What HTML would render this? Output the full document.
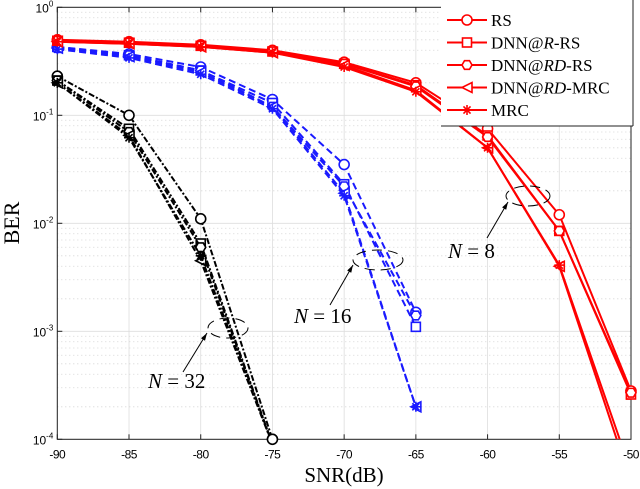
<!DOCTYPE html>
<html><head><meta charset="utf-8"><style>
body{margin:0;background:#fff;width:640px;height:489px;overflow:hidden}
svg{display:block}
text{font-family:"Liberation Sans",sans-serif}
.serif{font-family:"Liberation Serif",serif}
</style></head><body>
<svg id="chart" width="640" height="489" xmlns="http://www.w3.org/2000/svg"></svg>
<script>
const xTicks=[-90,-85,-80,-75,-70,-65,-60,-55,-50];
const yExps=[0,-1,-2,-3,-4];
const snr8=[-90,-85,-80,-75,-70,-65,-60,-55,-50];
const n8RS=[0.5,0.48,0.45,0.4,0.31,0.2,0.075,0.012,0.00028];
const n8RRS=[0.49,0.47,0.44,0.39,0.3,0.19,0.065,0.0085,0.00026];
const n8RDRS=[0.49,0.47,0.44,0.39,0.3,0.185,0.063,0.0085,0.00027];
const n8RDMRC=[0.48,0.46,0.43,0.38,0.29,0.17,0.05,0.004,0.00004];
const n8MRC=[0.48,0.46,0.43,0.38,0.28,0.165,0.05,0.0041,0.00005];
const snr16=[-90,-85,-80,-75,-70,-65];
const n16RS=[0.43,0.37,0.28,0.14,0.035,0.0015];
const n16RRS=[0.43,0.36,0.26,0.13,0.023,0.0011];
const n16RDRS=[0.42,0.36,0.26,0.12,0.022,0.0014];
const n16RDMRC=[0.42,0.35,0.25,0.12,0.019,0.0002];
const n16MRC=[0.41,0.34,0.24,0.115,0.018,0.0002];
const snr32=[-90,-85,-80,-75];
const n32RS=[0.23,0.1,0.011,0.0001];
const n32RRS=[0.21,0.075,0.0065,0.00009];
const n32RDRS=[0.21,0.07,0.006,0.00009];
const n32RDMRC=[0.2,0.065,0.0045,0.00009];
const n32MRC=[0.2,0.062,0.005,0.00009];
const legendLabels=["RS","DNN@R-RS","DNN@RD-RS","DNN@RD-MRC","MRC"];

const L=57.3,R=631,T=7.3,B=439.3;
const X=v=>L+(v+90)/40*(R-L);
const Y=v=>T+(-Math.log10(v))/4*(B-T);
const svg=document.getElementById('chart');
const NS='http://www.w3.org/2000/svg';
function mk(tag,attrs,parent){const e=document.createElementNS(NS,tag);for(const k in attrs)e.setAttribute(k,attrs[k]);(parent||svg).appendChild(e);return e;}
const defs=mk('defs',{});const cp=mk('clipPath',{id:'clip'},defs);mk('rect',{x:L,y:T,width:R-L,height:B-T},cp);

const grid=mk('g',{});


for(let d=0;d<4;d++)for(let m=2;m<10;m++){const y=Y(m*Math.pow(10,-d-1));mk('line',{x1:L,x2:R,y1:y,y2:y,stroke:'#ccc','stroke-width':0.8,'stroke-dasharray':'1,3'},grid);}
yExps.forEach(e=>{const y=Y(Math.pow(10,e));mk('line',{x1:L,x2:R,y1:y,y2:y,stroke:'#ddd','stroke-width':0.8},grid);});
xTicks.forEach(t=>{mk('line',{x1:X(t),x2:X(t),y1:T,y2:B,stroke:'#ddd','stroke-width':0.8},grid);});

const ax=mk('g',{});


mk('rect',{x:L,y:T,width:R-L,height:B-T,fill:'none',stroke:'#222','stroke-width':1},ax);
xTicks.forEach(t=>{const x=X(t);mk('line',{x1:x,x2:x,y1:B,y2:B-5,stroke:'#222'},ax);mk('line',{x1:x,x2:x,y1:T,y2:T+5,stroke:'#222'},ax);
 const tx=mk('text',{x:x,y:B+19,'font-size':12,'text-anchor':'middle','letter-spacing':'-0.5'},ax);tx.textContent=t;
 
 });
yExps.forEach(e=>{const y=Y(Math.pow(10,e));mk('line',{x1:L,x2:L+5,y1:y,y2:y,stroke:'#222'},ax);
 const tx=mk('text',{x:L-4,y:y+5,'font-size':12,'text-anchor':'end'},ax);
 
 
 tx.innerHTML='10<tspan dy="-6" font-size="8">'+e+'</tspan>';});
const xt=mk('text',{x:344,y:482,'font-size':21,'text-anchor':'middle',class:'serif'});xt.textContent='SNR(dB)';


const yt=mk('text',{x:0,y:0,'font-size':22,'text-anchor':'middle',class:'serif',transform:'translate(19,223) rotate(-90)'});yt.textContent='BER';



function marker(g,type,x,y,c){
 const s=5;
 if(type==0)mk('circle',{cx:x,cy:y,r:s,fill:'#fff',stroke:c,'stroke-width':1.6},g);
 else if(type==1)mk('rect',{x:x-s+0.5,y:y-s+0.5,width:2*s-1,height:2*s-1,fill:'#fff',stroke:c,'stroke-width':1.6},g);
 else if(type==2){let p=[];for(let i=0;i<6;i++){const a=Math.PI/3*i;p.push((x+s*Math.cos(a))+','+(y+s*Math.sin(a)));}mk('polygon',{points:p.join(' '),fill:'#fff',stroke:c,'stroke-width':1.6},g);}
 else if(type==3)mk('polygon',{points:(x-s)+','+y+' '+(x+s)+','+(y-s)+' '+(x+s)+','+(y+s),fill:'#fff',stroke:c,'stroke-width':1.6},g);
 else {for(let i=0;i<4;i++){const a=Math.PI/4*i;mk('line',{x1:x-s*Math.cos(a),y1:y-s*Math.sin(a),x2:x+s*Math.cos(a),y2:y+s*Math.sin(a),stroke:c,'stroke-width':1.6},g);}}
}
const plot=mk('g',{'clip-path':'url(#clip)'});
function series(xs,ys,c,dash,name){
 const g=mk('g',{},plot);
 
 
 mk('polyline',{points:xs.map((v,i)=>X(v)+','+Y(ys[i])).join(' '),fill:'none',stroke:c,'stroke-width':2,'stroke-dasharray':dash},g);
 return g;
}
const groups=[
 [snr32,[n32RS,n32RRS,n32RDRS,n32RDMRC,n32MRC],'#000','6,2,2,2','n32'],
 [snr16,[n16RS,n16RRS,n16RDRS,n16RDMRC,n16MRC],'#1a1aff','7,4','n16'],
 [snr8,[n8RS,n8RRS,n8RDRS,n8RDMRC,n8MRC],'#ff0000','','n8']];
groups.forEach(([xs,list,c,dash,nm])=>{list.forEach((ys,k)=>{const g=series(xs,ys,c,dash,nm+'-'+legendLabels[k].toLowerCase().replace(/@/g,'-'));
 xs.forEach((v,i)=>{if(ys[i]>=0.0001)marker(g,k,X(v),Y(ys[i]),c);});});});
const mg=mk('g',{});
groups.forEach(([xs,list,c])=>list.forEach((ys,k)=>xs.forEach((v,i)=>{const x=X(v),y=Y(ys[i]);if(ys[i]>=0.0001&&(x>=R-1||y>=B-1||x<=L+1))marker(mg,k,x,y,c);})));

const an=mk('g',{});


[[528,196,22,10,487,238,508,202,'8',448,258],[378,260,25,10,330,305,353,265,'16',294,323],[228,328,20,10,183,372,207,333,'32',148,388]].forEach(a=>{
 mk('ellipse',{cx:a[0],cy:a[1],rx:a[2],ry:a[3],fill:'none',stroke:'#000','stroke-width':1,'stroke-dasharray':'10,6'},an);
 mk('line',{x1:a[4],y1:a[5],x2:a[6],y2:a[7],stroke:'#000','stroke-width':1},an);
 const ang=Math.atan2(a[7]-a[5],a[6]-a[4]);const hx=a[6],hy=a[7];
 mk('polygon',{points:hx+','+hy+' '+(hx-8*Math.cos(ang-0.3))+','+(hy-8*Math.sin(ang-0.3))+' '+(hx-8*Math.cos(ang+0.3))+','+(hy-8*Math.sin(ang+0.3)),fill:'#000'},an);
 const t=mk('text',{x:a[9],y:a[10],'font-size':21,class:'serif'},an);
 
 
 t.innerHTML='<tspan font-style="italic">N</tspan> = '+a[8];
});

const lg=mk('g',{});


mk('rect',{x:441,y:0,width:192,height:126,fill:'#fff',stroke:'none'},lg);
mk('line',{x1:441,y1:126,x2:633,y2:126,stroke:'#222'},lg);
mk('line',{x1:633,y1:0,x2:633,y2:126,stroke:'#222'},lg);
legendLabels.forEach((lab,k)=>{
 const y=20+k*22.5;
 const e=mk('g',{},lg);
 
 
 mk('line',{x1:447,x2:487,y1:y,y2:y,stroke:'#f00','stroke-width':2},e);
 marker(e,k,467,y,'#f00');
 const t=mk('text',{x:491,y:y+6,'font-size':17,class:'serif'},e);
 t.innerHTML=lab.replace(/@RD/,'@<tspan font-style="italic">RD</tspan>').replace(/@R-/,'@<tspan font-style="italic">R</tspan>-');
});
</script>
</body></html>
